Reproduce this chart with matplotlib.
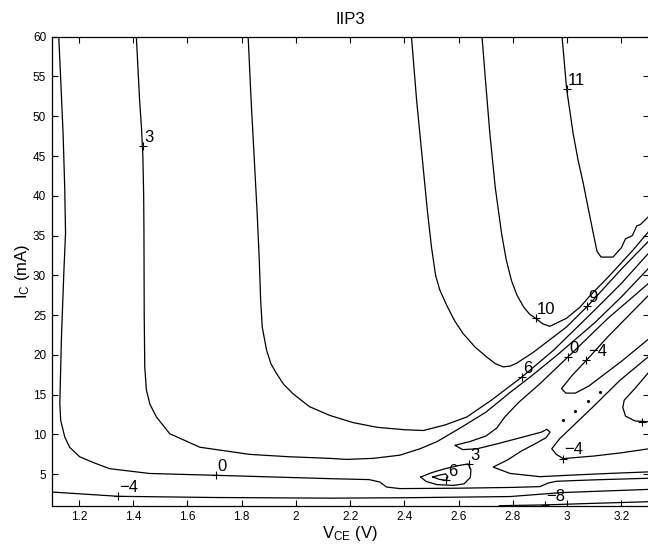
import numpy as np
import matplotlib.pyplot as plt
from matplotlib.ticker import FuncFormatter

plt.rcParams['font.family'] = ['Liberation Sans', 'DejaVu Sans']
plt.rcParams['mathtext.default'] = 'regular'

# contour traces: (V_CE [V], I_C [mA])
level_0_left = [(1.126, 60), (1.134, 54), (1.142, 47.8), (1.148, 41), (1.151, 35.3),
                (1.145, 30.6), (1.136, 22.3), (1.13, 14.0), (1.133, 11.8), (1.148, 9.7),
                (1.166, 8.4), (1.203, 7.2), (1.259, 6.4), (1.314, 5.7), (1.461, 5.1),
                (1.705, 4.87), (2.125, 4.45), (2.27, 4.33), (2.309, 4.03), (2.334, 3.4),
                (2.383, 3.2), (2.6, 3.25), (2.8, 3.35), (2.9, 3.45), (2.93, 3.9),
                (2.96, 4.12), (3.1, 4.3), (3.3, 4.5)]
level_3_left = [(1.412, 60), (1.418, 56), (1.424, 52), (1.431, 48.5), (1.436, 45),
                (1.439, 40), (1.44, 35.3), (1.441, 25), (1.443, 18.5), (1.449, 15.6),
                (1.462, 13.8), (1.486, 12.2), (1.535, 10.1), (1.646, 8.4), (1.83, 7.5),
                (1.977, 7.2), (2.125, 7.0), (2.186, 6.87), (2.285, 7.0), (2.383, 7.4),
                (2.457, 8.2), (2.52, 9.1), (2.6, 10.7), (2.7, 12.8), (2.79, 15.3),
                (2.87, 17.4), (2.96, 19.9), (3.1, 24.0), (3.2, 27.3), (3.3, 30.9)]
level_6_left = [(1.824, 60), (1.835, 52), (1.846, 45), (1.857, 38), (1.865, 32),
                (1.87, 27), (1.876, 23.5), (1.892, 20.6), (1.908, 18.9), (1.928, 17.7),
                (1.955, 16.3), (1.99, 15.1), (2.05, 13.5), (2.125, 12.4), (2.21, 11.5),
                (2.3, 10.9), (2.4, 10.6), (2.47, 10.5), (2.55, 11.2), (2.63, 12.2),
                (2.72, 14.3), (2.832, 17.2), (2.95, 20.6), (3.1, 25.6), (3.2, 29.0),
                (3.3, 32.8)]
level_9 = [(2.426, 60), (2.445, 52), (2.465, 45), (2.485, 38), (2.5, 33.5), (2.515, 30),
           (2.53, 28.2), (2.555, 26.3), (2.585, 24.3), (2.616, 22.7), (2.66, 21.0),
           (2.703, 19.75), (2.735, 18.9), (2.764, 18.5), (2.79, 18.6), (2.813, 18.95),
           (2.874, 20.3), (2.997, 23.5), (3.074, 26.1), (3.2, 30.8), (3.3, 34.3)]
level_10 = [(2.686, 60), (2.7, 54), (2.715, 47.8), (2.735, 41), (2.758, 35.3),
            (2.775, 32), (2.795, 29.3), (2.815, 27.5), (2.84, 26.0), (2.862, 25.1),
            (2.884, 24.6), (2.91, 23.9), (2.936, 23.6), (2.997, 24.6), (3.047, 26.0),
            (3.083, 27.4), (3.157, 30.0), (3.243, 33.2), (3.3, 35.5)]
level_11 = [(2.981, 60), (2.998, 53.4), (3.022, 47.8), (3.04, 44.5), (3.059, 41.6),
            (3.08, 38.0), (3.096, 35.3), (3.11, 33.0), (3.125, 32.3), (3.169, 32.3),
            (3.2, 33.5), (3.215, 34.6), (3.24, 35.0), (3.256, 36.2), (3.27, 36.4),
            (3.3, 37.4)]
level_0_fold = [(3.3, 29.0), (3.15, 24.6), (3.003, 19.75), (2.9, 16.4), (2.82, 14.0),
                (2.77, 12.2), (2.74, 10.8), (2.7, 9.8), (2.64, 9.1), (2.586, 8.64),
                (2.615, 8.1), (2.667, 8.2), (2.75, 8.9), (2.85, 9.8), (2.905, 10.3),
                (2.925, 10.65), (2.937, 10.3), (2.922, 9.6), (2.88, 8.8), (2.83, 7.9),
                (2.78, 6.8), (2.727, 5.9), (2.79, 5.1), (2.9, 4.7), (3.0, 4.87),
                (3.15, 5.1), (3.3, 5.3)]
level_m4_bottom = [(1.1, 2.77), (1.345, 2.23), (1.7, 2.08), (2.125, 2.0), (2.4, 2.05),
                   (2.79, 2.2), (2.98, 2.7), (3.3, 3.1)]
level_m8_bottom = [(2.75, 1.05), (2.917, 1.15), (3.1, 1.35), (3.3, 1.55)]
level_m4_loop = [(3.3, 27.5), (3.15, 22.3), (3.071, 19.33), (3.02, 17.5), (2.979, 15.77),
                 (2.995, 15.2), (3.03, 15.2), (3.08, 16.1), (3.2, 19.2), (3.3, 22.0)]
level_m4_wedge = [(3.3, 19.8), (3.194, 16.8), (3.096, 13.5), (2.973, 9.5), (2.943, 8.2),
                  (2.96, 7.5), (2.985, 6.97), (3.1, 7.3), (3.2, 7.7), (3.3, 8.2)]
level_m8_right = [(3.3, 17.8), (3.25, 15.8), (3.21, 14.3), (3.205, 13.4), (3.215, 12.3),
                  (3.25, 11.7), (3.3, 11.6)]
level_3_island = [(2.46, 4.65), (2.5, 5.2), (2.55, 5.7), (2.6, 6.1), (2.635, 6.3),
                  (2.645, 5.6), (2.643, 4.6), (2.62, 3.8), (2.58, 3.6), (2.52, 3.7),
                  (2.48, 4.1), (2.46, 4.65)]
level_6_island = [(2.505, 4.65), (2.53, 4.9), (2.552, 5.05), (2.56, 4.7), (2.555, 4.25),
                  (2.53, 4.35), (2.505, 4.65)]

dots_v = [2.985, 3.028, 3.077, 3.12]
dots_i = [11.8, 13.0, 14.2, 15.3]

# clabel positions
label_text = ['3', '0', '\u22124', '11', '10', '9', '6', '0', '\u22124', '3', '6',
              '\u22124', '\u22128']
label_v = [1.436, 1.705, 1.345, 2.998, 2.884, 3.074, 2.832, 3.003, 3.071, 2.639, 2.555,
           2.985, 2.917]
label_i = [46.2, 4.87, 2.23, 53.4, 24.6, 26.1, 17.2, 19.75, 19.33, 6.33, 4.24,
           6.97, 1.15]
extra_mark_v = [3.274]
extra_mark_i = [11.6]

fig = plt.figure(figsize=(6.48, 5.47), dpi=100)
ax = fig.add_axes([51.7 / 648, (547 - 505.7) / 547, (648.6 - 51.7) / 648, (505.7 - 36.7) / 547])

lines = [level_0_left, level_3_left, level_6_left, level_9, level_10, level_11,
         level_0_fold, level_m4_bottom, level_m8_bottom, level_m4_loop, level_m4_wedge,
         level_m8_right, level_3_island, level_6_island]
for pts in lines:
    pts = np.array(pts)
    ax.plot(pts[:, 0], pts[:, 1], color='black', lw=0.9)

ax.plot(dots_v, dots_i, 'k.', ms=2.5)

ax.plot(label_v + extra_mark_v, label_i + extra_mark_i, '+', color='black', ms=6, mew=0.8)
for t, v, i in zip(label_text, label_v, label_i):
    ax.annotate(t, (v, i), xytext=(1, 3), textcoords='offset points',
                ha='left', va='baseline', fontsize=12)

ax.set_xlim(1.1, 3.3)
ax.set_ylim(1.05, 60)
ax.set_xticks(np.arange(1.2, 3.21, 0.2))
ax.set_yticks(np.arange(5, 61, 5))
ax.xaxis.set_major_formatter(FuncFormatter(lambda x, p: f'{x:g}'))
ax.tick_params(direction='in', top=True, right=True, length=4, width=0.8,
               labelsize=8.5, pad=4)
for s in ax.spines.values():
    s.set_linewidth(0.9)

ax.set_title('IIP3', fontsize=12, pad=9)
ax.set_xlabel('$V_{CE}$ (V)', fontsize=12)
ax.set_ylabel('$I_C$ (mA)', fontsize=12)
ax.xaxis.set_label_coords(0.5, -0.039)
ax.yaxis.set_label_coords(-0.033, 0.5)

fig.savefig('out.png', dpi=100)
